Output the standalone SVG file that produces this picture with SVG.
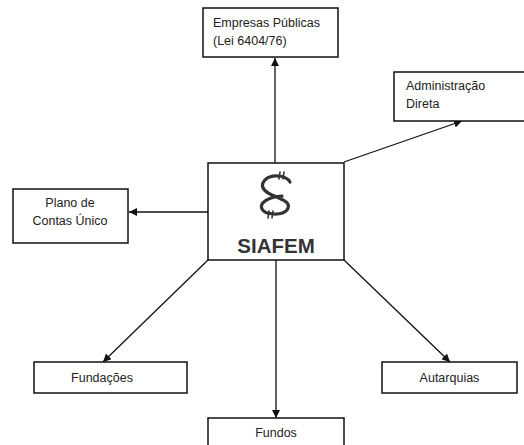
<svg xmlns="http://www.w3.org/2000/svg" width="524" height="445" viewBox="0 0 524 445">
<style>
.box{fill:#fff;stroke:#111;stroke-width:1.5}
.lbl{font-family:"Liberation Sans",Arial,sans-serif;font-size:12.5px;fill:#222}
.c{text-anchor:middle}
.conn line{stroke:#111;stroke-width:1.3;marker-end:url(#arr)}
</style>
<defs>
<marker id="arr" viewBox="0 0 10 10" refX="10" refY="5" markerWidth="8" markerHeight="8" markerUnits="userSpaceOnUse" orient="auto">
<path d="M0,0 L10,5 L0,10 Z" fill="#111"/>
</marker>
</defs>
<rect width="524" height="445" fill="#fff"/>
<g id="connectors" class="conn">
<line x1="275" y1="163" x2="275" y2="58"/>
<line x1="344" y1="162" x2="462" y2="121"/>
<line x1="208" y1="212" x2="129" y2="212"/>
<line x1="208" y1="260" x2="103" y2="362"/>
<line x1="276" y1="260" x2="276" y2="418"/>
<line x1="344" y1="260" x2="450" y2="362"/>
</g>
<g id="siafem">
<rect class="box" x="208" y="163" width="136" height="97"/>
<g fill="none" stroke="#333" stroke-linecap="round">
<path d="M290,182 C286,175 272,174 266,179 C259,185 263,191 272,195 C284,200 292,203 287,210 C282,216 265,215 262,209 C259,203 268,197 282,196" stroke-width="3.2"/>
<path d="M280,172 L279,179 M284,172 L283,179" stroke-width="1.6"/>
<path d="M269,211 L268,218 M273,211 L272,218" stroke-width="1.6"/>
</g>
<text x="276" y="253" class="c" style="font-family:'Liberation Sans',Arial,sans-serif;font-size:20.5px;font-weight:bold;fill:#333">SIAFEM</text>
</g>
<g id="empresas">
<rect class="box" x="203" y="8" width="135" height="49"/>
<text class="lbl" x="213" y="27">Empresas Públicas</text>
<text class="lbl" x="213" y="45">(Lei 6404/76)</text>
</g>
<g id="administracao">
<rect class="box" x="394" y="72" width="131" height="49"/>
<text class="lbl" x="406" y="90">Administração</text>
<text class="lbl" x="406" y="108">Direta</text>
</g>
<g id="plano">
<rect class="box" x="13" y="189" width="115" height="54"/>
<text class="lbl c" x="70" y="207">Plano de</text>
<text class="lbl c" x="70" y="225">Contas Único</text>
</g>
<g id="fundacoes">
<rect class="box" x="34" y="362" width="153" height="31"/>
<text class="lbl c" x="102" y="382">Fundações</text>
</g>
<g id="fundos">
<rect class="box" x="208" y="418" width="136" height="30"/>
<text class="lbl c" x="276" y="437">Fundos</text>
</g>
<g id="autarquias">
<rect class="box" x="382" y="362" width="135" height="31"/>
<text class="lbl c" x="449.5" y="382">Autarquias</text>
</g>
</svg>
